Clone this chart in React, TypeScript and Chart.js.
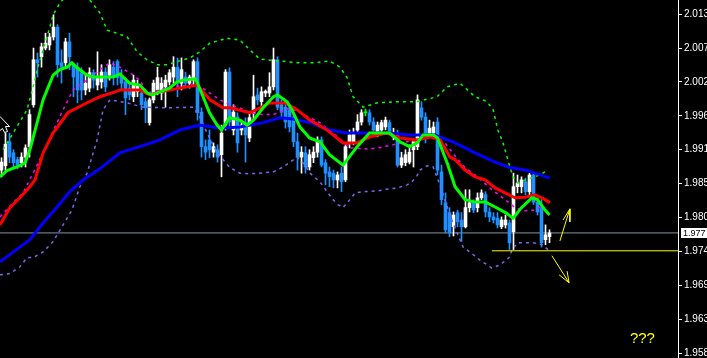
import React, { useEffect, useRef } from 'react';
import { Chart, registerables } from 'chart.js';
Chart.register(...registerables);

// ---- candles (price) ----
const opens = [1.9875,1.9882,1.9921,1.9903,1.9892,1.9887,1.9896,1.9913,1.9981,2.0054,
2.0059,2.0073,2.0078,2.0091,2.0107,2.0049,2.0049,2.0083,2.0046,2.0042,
2.0033,2.0005,2.0008,2.0033,2.0013,2.0018,2.0034,2.0029,2.0042,2.0051,
2.0029,2.0018,2.0008,1.9994,2.0002,2.0000,1.9986,1.9952,1.9989,2.0005,
2.0000,2.0010,2.0018,2.0026,2.0042,2.0016,2.0026,2.0016,2.0021,2.0051,
1.9969,1.9913,1.9924,1.9904,1.9908,1.9900,1.9948,2.0034,1.9940,1.9961,
1.9940,1.9952,1.9927,1.9968,1.9997,1.9986,2.0000,2.0000,2.0010,2.0054,
1.9981,1.9977,1.9973,1.9961,1.9921,1.9896,1.9903,1.9880,1.9895,1.9904,
1.9924,1.9887,1.9872,1.9870,1.9859,1.9870,1.9859,1.9919,1.9921,1.9940,
1.9953,1.9968,1.9968,1.9953,1.9932,1.9940,1.9945,1.9952,1.9929,1.9935,
1.9883,1.9887,1.9888,1.9908,1.9913,1.9976,1.9961,1.9935,1.9935,1.9953,
1.9872,1.9822,1.9806,1.9783,1.9806,1.9794,1.9783,1.9814,1.9822,1.9814,
1.9830,1.9835,1.9807,1.9799,1.9797,1.9783,1.9786,1.9789,1.9775,1.9848,
1.9848,1.9856,1.9840,1.9867,1.9823,1.9815,1.9762,1.9767];
const highs = [1.9895,1.9935,1.9935,1.9908,1.9896,1.9903,1.9916,1.9973,2.0073,2.0065,
2.0081,2.0097,2.0097,2.0127,2.0111,2.0070,2.0089,2.0097,2.0049,2.0049,
2.0041,2.0029,2.0041,2.0038,2.0067,2.0046,2.0041,2.0054,2.0051,2.0054,
2.0038,2.0025,2.0016,2.0029,2.0021,2.0008,1.9992,1.9992,2.0021,2.0042,
2.0025,2.0029,2.0038,2.0059,2.0057,2.0057,2.0034,2.0029,2.0054,2.0057,
1.9976,1.9924,1.9940,1.9919,1.9916,1.9948,2.0038,2.0041,1.9981,1.9968,
1.9956,1.9960,1.9969,2.0029,2.0008,2.0010,2.0005,2.0033,2.0073,2.0059,
1.9989,1.9984,1.9981,1.9968,1.9935,1.9913,1.9913,1.9908,1.9913,1.9929,
1.9929,1.9892,1.9880,1.9875,1.9872,1.9880,1.9916,1.9940,1.9943,1.9965,
1.9973,1.9974,1.9973,1.9960,1.9953,1.9956,1.9961,1.9956,1.9943,1.9940,
1.9904,1.9908,1.9916,1.9924,1.9997,1.9986,1.9968,1.9956,1.9953,1.9960,
1.9883,1.9838,1.9814,1.9807,1.9810,1.9806,1.9843,1.9843,1.9827,1.9838,
1.9843,1.9840,1.9814,1.9806,1.9806,1.9799,1.9802,1.9794,1.9870,1.9867,
1.9864,1.9862,1.9870,1.9870,1.9830,1.9827,1.9786,1.9778];
const lows = [1.9864,1.9872,1.9887,1.9880,1.9877,1.9880,1.9880,1.9896,1.9977,2.0026,
2.0042,2.0070,2.0070,2.0086,2.0026,2.0016,2.0042,2.0038,1.9994,1.9984,
1.9989,1.9997,2.0002,2.0008,2.0005,2.0008,2.0002,2.0021,2.0013,2.0013,
2.0005,1.9965,1.9989,1.9986,1.9994,1.9973,1.9952,1.9948,1.9984,1.9997,
1.9989,1.9977,2.0013,2.0016,1.9994,2.0005,2.0008,2.0008,2.0013,1.9956,
1.9896,1.9892,1.9895,1.9896,1.9888,1.9864,1.9940,1.9943,1.9932,1.9904,
1.9932,1.9888,1.9921,1.9956,1.9981,1.9977,1.9994,1.9994,2.0005,1.9973,
1.9961,1.9943,1.9937,1.9913,1.9875,1.9870,1.9870,1.9875,1.9887,1.9896,
1.9880,1.9851,1.9848,1.9846,1.9846,1.9840,1.9856,1.9911,1.9916,1.9935,
1.9948,1.9963,1.9948,1.9937,1.9929,1.9935,1.9940,1.9932,1.9924,1.9880,
1.9879,1.9882,1.9885,1.9880,1.9908,1.9956,1.9919,1.9929,1.9930,1.9867,
1.9819,1.9773,1.9767,1.9768,1.9783,1.9759,1.9781,1.9807,1.9806,1.9807,
1.9827,1.9799,1.9791,1.9789,1.9781,1.9780,1.9781,1.9746,1.9746,1.9838,
1.9838,1.9835,1.9835,1.9819,1.9802,1.9750,1.9754,1.9757];
const closes = [1.9888,1.9917,1.9896,1.9887,1.9883,1.9896,1.9911,1.9965,2.0054,2.0049,
2.0075,2.0081,2.0091,2.0107,2.0046,2.0042,2.0083,2.0059,2.0026,2.0005,
2.0005,2.0016,2.0033,2.0021,2.0026,2.0034,2.0010,2.0046,2.0025,2.0025,
2.0016,1.9992,1.9997,2.0021,2.0013,1.9981,1.9976,1.9989,2.0016,2.0025,
2.0016,2.0021,2.0033,2.0042,2.0016,2.0038,2.0016,2.0026,2.0051,1.9968,
1.9913,1.9904,1.9908,1.9913,1.9896,1.9935,2.0034,1.9953,1.9969,1.9919,
1.9948,1.9932,1.9960,1.9994,1.9989,2.0002,2.0003,2.0010,2.0054,1.9977,
1.9969,1.9953,1.9945,1.9921,1.9896,1.9904,1.9880,1.9900,1.9904,1.9921,
1.9883,1.9870,1.9864,1.9859,1.9867,1.9856,1.9913,1.9932,1.9935,1.9953,
1.9968,1.9968,1.9953,1.9940,1.9948,1.9952,1.9956,1.9935,1.9935,1.9883,
1.9895,1.9900,1.9904,1.9921,1.9989,1.9961,1.9935,1.9943,1.9945,1.9875,
1.9827,1.9778,1.9773,1.9802,1.9791,1.9783,1.9814,1.9822,1.9810,1.9830,
1.9838,1.9807,1.9799,1.9794,1.9786,1.9794,1.9794,1.9757,1.9848,1.9854,
1.9859,1.9840,1.9867,1.9823,1.9807,1.9757,1.9770,1.9773];

// ---- indicator lines: [bar index, price] ----
const fastMA: [number, number][] = [[-0.4,1.9864],[1.4,1.9874],[4.6,1.9882],[5.9,1.9887],[7.1,1.9908],[8.9,1.9952],[10.4,1.9989],[12.9,2.0029],[14.6,2.0038],[16.4,2.0042],[17.6,2.0049],[18.9,2.0041],[21.4,2.0029],[22.9,2.0026],[27.9,2.0026],[29.6,2.0031],[32,2.0016],[34.6,2.0013],[36.4,2.0000],[37.6,1.9997],[39.6,2.0002],[42,2.0008],[43.9,2.0018],[45.4,2.0021],[48.4,2.0023],[49,2.0016],[50.4,1.9994],[52,1.9968],[53.9,1.9948],[55,1.9940],[57,1.9960],[59.6,1.9956],[61.4,1.9948],[63,1.9956],[65.4,1.9976],[68,1.9994],[69,1.9997],[71.4,1.9986],[72.6,1.9973],[74.6,1.9945],[77,1.9927],[79.6,1.9921],[82,1.9900],[85.4,1.9883],[88.9,1.9913],[92,1.9935],[97,1.9935],[99.6,1.9921],[102,1.9913],[103.9,1.9919],[105.4,1.9932],[108,1.9932],[109,1.9927],[111.4,1.9887],[113.4,1.9848],[115.9,1.9827],[118.4,1.9823],[121,1.9823],[123.4,1.9815],[126,1.9806],[127.9,1.9797],[130,1.9814],[132.6,1.9830],[134,1.9827],[135.9,1.9810],[137,1.9802]];
const midMA: [number, number][] = [[-0.4,1.9786],[2.1,1.9814],[4.6,1.9830],[7.1,1.9848],[8.4,1.9859],[9.1,1.9875],[10.4,1.9903],[12.9,1.9935],[16.6,1.9968],[20.4,1.9981],[24.6,1.9994],[28.4,2.0002],[29.6,2.0005],[34.6,2.0005],[37.1,1.9997],[39.6,2.0002],[44.6,2.0008],[48.9,2.0013],[52.1,1.9989],[55.4,1.9976],[57.1,1.9976],[62.1,1.9968],[67.1,1.9984],[70.9,1.9984],[73.9,1.9973],[77.1,1.9956],[81.4,1.9940],[85.4,1.9919],[88.9,1.9919],[92.1,1.9929],[96.4,1.9935],[99.6,1.9927],[103.9,1.9924],[107.1,1.9929],[109.6,1.9924],[112.1,1.9896],[113.4,1.9892],[115.9,1.9875],[118.4,1.9864],[120.9,1.9859],[123.4,1.9846],[125.9,1.9838],[128.4,1.9830],[130.9,1.9831],[133.4,1.9835],[135.9,1.9827],[137.1,1.9822]];
const slowMA: [number, number][] = [[-0.4,1.9726],[4.6,1.9750],[7.1,1.9762],[10.4,1.9789],[13.9,1.9815],[17.1,1.9840],[20.4,1.9859],[24.6,1.9877],[29.6,1.9903],[34.6,1.9913],[39.6,1.9924],[44.6,1.9940],[49.6,1.9948],[54.6,1.9943],[59.6,1.9945],[65.4,1.9952],[69.6,1.9960],[72.9,1.9958],[77.1,1.9952],[82.1,1.9940],[86.4,1.9935],[92.1,1.9935],[97.1,1.9935],[102.1,1.9932],[108.4,1.9932],[113.4,1.9919],[118.4,1.9903],[123.4,1.9888],[127.1,1.9879],[130.9,1.9875],[133.4,1.9870],[137.1,1.9862]];
const signalLine: [number, number][] = [[-0.4,1.9799],[2.9,1.9822],[5.4,1.9838],[7.9,1.9870],[10.4,1.9903],[15.4,1.9973],[17.9,2.0005],[21.4,2.0021],[24.6,2.0038],[27.1,2.0049],[29.6,2.0042],[32.1,2.0033],[34.6,2.0021],[36.4,2.0000],[37.9,2.0002],[42.1,2.0010],[47.1,2.0013],[49.1,2.0013],[52.1,2.0000],[54.6,1.9989],[57.1,1.9981],[59.6,1.9976],[62.1,1.9968],[65.4,1.9965],[67.9,1.9965],[69.6,1.9969],[72.1,1.9976],[74.6,1.9968],[77.1,1.9960],[79.6,1.9952],[83.4,1.9932],[87.1,1.9911],[92.1,1.9909],[95.9,1.9913],[99.6,1.9919],[104.6,1.9924],[108.4,1.9929],[110.9,1.9919],[114.1,1.9892],[115.9,1.9879],[118.4,1.9867],[122.6,1.9843],[125.9,1.9827],[128.4,1.9814],[130.9,1.9809],[133.4,1.9810],[135.1,1.9817]];
const upperBand: [number, number][] = [[0.4,1.9908],[2.9,1.9935],[6.4,1.9973],[7.9,2.0010],[9.1,2.0042],[12.1,2.0107],[12.9,2.0127],[14.6,2.0146],[18.4,2.0175],[22.1,2.0151],[24.6,2.0130],[26.4,2.0102],[28.9,2.0097],[31.4,2.0091],[33.9,2.0067],[36.4,2.0054],[38.9,2.0046],[41.4,2.0046],[43.9,2.0051],[47.1,2.0057],[49.6,2.0067],[52.1,2.0081],[56.4,2.0089],[59.6,2.0086],[62.1,2.0070],[64.6,2.0055],[69.6,2.0052],[73.9,2.0049],[77.9,2.0049],[82.1,2.0052],[84.6,2.0042],[86.4,2.0025],[87.9,1.9994],[90.4,1.9977],[93.9,1.9984],[98.9,1.9986],[103.9,1.9986],[108.9,1.9994],[111.4,2.0010],[114.6,2.0016],[118.4,1.9994],[121.4,1.9986],[122.9,1.9973],[124.1,1.9940],[125.4,1.9919],[127.1,1.9880],[127.9,1.9864],[129.1,1.9854],[130.9,1.9859],[133.4,1.9864],[135.9,1.9872]];
const lowerBand: [number, number][] = [[-0.4,1.9705],[2.1,1.9707],[4.6,1.9718],[6.4,1.9733],[7.9,1.9733],[10.4,1.9742],[12.9,1.9759],[15.4,1.9786],[17.6,1.9810],[19.6,1.9848],[21.4,1.9870],[23.9,1.9924],[25.4,1.9973],[27.1,1.9989],[31.4,1.9984],[35.4,1.9977],[41.4,1.9976],[47.9,1.9977],[49.6,1.9961],[51.4,1.9935],[53.9,1.9903],[57.1,1.9879],[59.6,1.9870],[62.1,1.9869],[64.6,1.9870],[67.9,1.9872],[70.4,1.9880],[73.9,1.9896],[75.9,1.9883],[77.1,1.9870],[79.6,1.9856],[81.6,1.9838],[82.9,1.9827],[84.1,1.9819],[85.4,1.9814],[87.1,1.9827],[88.4,1.9838],[90.4,1.9840],[93.9,1.9841],[96.4,1.9844],[98.9,1.9846],[101.4,1.9851],[102.6,1.9856],[103.9,1.9866],[104.6,1.9875],[106.4,1.9882],[107.9,1.9880],[109.6,1.9851],[112.1,1.9802],[113.9,1.9773],[115.4,1.9750],[117.1,1.9742],[119.6,1.9729],[122.6,1.9716],[124.6,1.9721],[127.1,1.9734],[127.6,1.9746],[129.1,1.9757],[132.9,1.9757],[135.1,1.9754],[136.6,1.9746]];

// ---- annotations ----
const currentPrice = 1.9773;
const currentLabel = '1.977';
const supportPrice = 1.9744;
const supportStart = 122.6;
const upArrow: [number, number][] = [[139.6,1.9760],[142.1,1.9812]];
const upArrowHead: [number, number][] = [[140.4,1.9794],[142.1,1.9812],[142.1,1.9791]];
const downArrow: [number, number][] = [[137.6,1.9736],[141.9,1.9692]];
const downArrowHead: [number, number][] = [[139.4,1.9705],[141.9,1.9692],[141.4,1.9711]];
const noteText = '???';
const notePos: [number, number] = [157.1, 1.9595];

// ---- axis ----
const tickValues = [2.0128, 2.0073, 2.0018, 1.9963, 1.9908, 1.9853, 1.9798, 1.9743, 1.9688, 1.9633, 1.9578];
const tickLabels = ['2.013', '2.007', '2.002', '1.996', '1.991', '1.985', '1.980', '1.974', '1.969', '1.963', '1.958'];
const priceMin = 1.9570;
const priceMax = 2.0151;
const barMin = -0.375;
const barMax = 169.125;

const BULL = '#ffffff';
const BEAR = '#1e90ff';
const DOJI = '#00ff00';

const pts = (arr: [number, number][]) => arr.map(([x, y]) => ({ x, y }));

export default function App() {
  const ref = useRef<HTMLCanvasElement>(null);
  useEffect(() => {
    document.body.style.margin = '0';
    const colors = opens.map((o, i) => (closes[i] > o ? BULL : closes[i] < o ? BEAR : DOJI));
    const line = (data: any[], color: string, width: number, dash: number[], order: number) => ({
      type: 'line' as const,
      data,
      borderColor: color,
      borderWidth: width,
      borderDash: dash,
      pointRadius: 0,
      pointHoverRadius: 0,
      tension: 0,
      fill: false,
      spanGaps: false,
      order,
    });
    const overlay = {
      id: 'overlay',
      beforeDraw(chart: any) {
        const c = chart.ctx;
        c.save();
        c.fillStyle = '#000';
        c.fillRect(0, 0, chart.width, chart.height);
        c.restore();
      },
      afterDraw(chart: any) {
        const c = chart.ctx;
        const ys = chart.scales.y;
        const xs = chart.scales.x;
        c.save();
        const py = Math.round(ys.getPixelForValue(currentPrice));
        c.fillStyle = '#ffffff';
        c.fillRect(ys.left + 3, py - 5, chart.width - ys.left - 3, 10);
        c.fillStyle = '#000000';
        c.font = '9px "Liberation Sans", Arial, sans-serif';
        c.textAlign = 'left';
        c.textBaseline = 'middle';
        c.fillText(currentLabel, ys.left + 5, py + 0.5);
        c.fillStyle = '#ffff00';
        c.font = '15px "Liberation Sans", Arial, sans-serif';
        c.textBaseline = 'alphabetic';
        c.fillText(noteText, xs.getPixelForValue(notePos[0]), ys.getPixelForValue(notePos[1]));
        // screen cursor artifact
        c.strokeStyle = '#ffffff';
        c.lineWidth = 1;
        c.beginPath();
        c.moveTo(0, 116.5);
        c.lineTo(9.5, 126.5);
        c.lineTo(5.5, 126.5);
        c.lineTo(7.5, 131.5);
        c.lineTo(4.5, 132.5);
        c.lineTo(2.5, 128.5);
        c.lineTo(0, 130.5);
        c.stroke();
        c.restore();
      },
    };
    const chart = new Chart(ref.current as HTMLCanvasElement, {
      type: 'bar',
      data: {
        datasets: [
          line(pts(fastMA), '#00ff00', 3, [], 3) as any,
          line(pts(midMA), '#ff0000', 3, [], 4) as any,
          line(pts(slowMA), '#0000ff', 3, [], 5) as any,
          line(pts(signalLine), '#ff00ff', 1.5, [3, 4], 6) as any,
          line(pts(upperBand), '#00ff00', 1.5, [3, 4], 7) as any,
          line(pts(lowerBand), '#7b68ee', 1.5, [3, 4], 8) as any,
          line([{ x: supportStart, y: supportPrice }, { x: 200, y: supportPrice }], '#ffff00', 1, [], 2) as any,
          line([...pts(upArrow), { x: upArrow[1][0], y: null }, ...pts(upArrowHead)], '#ffff00', 1, [], 1) as any,
          line([...pts(downArrow), { x: downArrow[1][0], y: null }, ...pts(downArrowHead)], '#ffff00', 1, [], 1) as any,
          {
            type: 'bar',
            data: opens.map((_, i) => ({ x: i, y: [lows[i], highs[i]] })),
            backgroundColor: colors,
            borderWidth: 0,
            barThickness: 1,
            grouped: false,
            order: 21,
          } as any,
          {
            type: 'bar',
            data: opens.map((o, i) => ({ x: i, y: [o, closes[i]] })),
            backgroundColor: colors,
            borderWidth: 0,
            barThickness: 3,
            minBarLength: 1,
            grouped: false,
            order: 20,
          } as any,
          line([{ x: -5, y: currentPrice }, { x: 200, y: currentPrice }], '#8494a6', 1, [], 30) as any,
        ],
      },
      options: {
        responsive: false,
        animation: false,
        events: [],
        layout: { padding: 0, autoPadding: false } as any,
        plugins: { legend: { display: false }, tooltip: { enabled: false } },
        scales: {
          x: {
            type: 'linear',
            display: false,
            offset: false,
            min: barMin,
            max: barMax,
          },
          y: {
            type: 'linear',
            position: 'right',
            min: priceMin,
            max: priceMax,
            beginAtZero: false,
            bounds: 'data',
            afterBuildTicks: (s: any) => {
              s.ticks = tickValues.map((v) => ({ value: v }));
            },
            afterFit: (s: any) => {
              s.width = 29;
              s.paddingTop = 0;
              s.paddingBottom = 0;
            },
            grid: {
              drawOnChartArea: false,
              drawTicks: true,
              tickLength: 4,
              color: '#ffffff',
              lineWidth: 1,
            },
            border: { display: true, color: '#ffffff', width: 1 },
            ticks: {
              color: '#ffffff',
              padding: 2,
              autoSkip: false,
              font: { family: '"Liberation Sans", Arial, sans-serif', size: 10 },
              callback: (_v: any, i: number) => tickLabels[i],
            },
          } as any,
        },
      },
      plugins: [overlay],
    });
    return () => chart.destroy();
  }, []);
  return (
    <div style={{ position: 'fixed', left: 0, top: 0, width: 707, height: 358, background: '#000' }}>
      <canvas ref={ref} width={707} height={358} style={{ display: 'block', width: 707, height: 358 }} />
    </div>
  );
}
